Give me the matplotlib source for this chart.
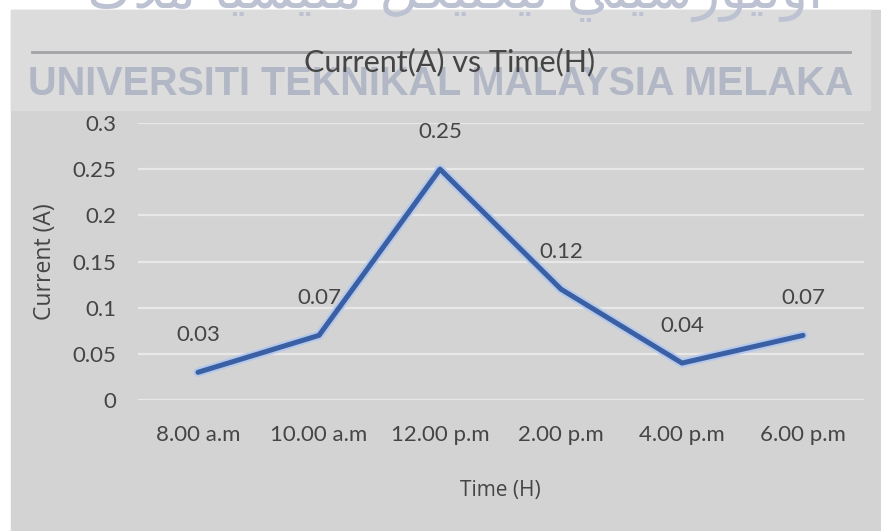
import matplotlib
matplotlib.use("Agg")
import matplotlib.pyplot as plt
from matplotlib.patches import Rectangle
from matplotlib.lines import Line2D

# dados
times = ["8.00 a.m", "10.00 a.m", "12.00 p.m", "2.00 p.m", "4.00 p.m", "6.00 p.m"]
current = [0.03, 0.07, 0.25, 0.12, 0.04, 0.07]
y_ticks = [0, 0.05, 0.1, 0.15, 0.2, 0.25, 0.3]
y_labels = ["0", "0.05", "0.1", "0.15", "0.2", "0.25", "0.3"]

title = "Current(A) vs Time(H)"
watermark = "UNIVERSITI TEKNIKAL MALAYSIA MELAKA"
# jawi (formas de apresentação, ordem visual da esquerda para a direita)
jawi_logical = ("\uFE8D\uFEED\uFEE7\uFEF4\uFEEE\uFEAD\uFEB3\uFEF4\uFE98\uFEF2 "
                "\uFE97\uFEF4\uFEDC\uFEE8\uFEF4\uFEDC\uFEDE "
                "\uFEE3\uFEE0\uFEF4\uFEB4\uFEF4\uFE8E "
                "\uFEE3\uFEFC\uFED9")
jawi = jawi_logical[::-1]

W, H = 881, 531
fig = plt.figure(figsize=(W / 100, H / 100), dpi=100, facecolor="white")

def fx(px):
    return px / W

def fy(py):
    return 1 - py / H

fonte = ["Lato", "DejaVu Sans"]
dark = "#454545"

# fundo cinza do print e faixa clara do topo
fig.patches.append(Rectangle((fx(11), 0), 1 - fx(11), fy(10), transform=fig.transFigure,
                             color="#d3d3d3", zorder=-5))
fig.patches.append(Rectangle((fx(11), fy(110)), fx(870) - fx(11), fy(10) - fy(110),
                             transform=fig.transFigure, color="#dcdcdc", zorder=-4))
fig.lines.append(Line2D([fx(32), fx(850)], [fy(52), fy(52)], transform=fig.transFigure,
                        color="#a3a3a7", lw=2, zorder=-3))

# marca d'água
fig.text(fx(441), fy(84), watermark, ha="center", va="center", fontsize=28.5,
         fontweight="bold", family="Liberation Sans", color="#b2b7c6", zorder=-2)
fig.text(fx(455), fy(8), jawi, ha="center", va="baseline", fontsize=40,
         family="DejaVu Sans", color="#bcc2d2", zorder=-2)

fig.text(fx(450), fy(62), title, ha="center", va="center", fontsize=22,
         family=fonte, color=dark, zorder=1)

ax = fig.add_axes([fx(137.5), fy(400), fx(863.5) - fx(137.5), fy(123) - fy(400)])
ax.set_facecolor("none")
ax.set_zorder(2)
x = list(range(len(times)))

ax.plot(x, current, color="#b4c8ec", lw=6.5, solid_capstyle="round", zorder=3)
ax.plot(x, current, color="#3a5fa3", lw=3.6, solid_capstyle="round", zorder=4)

for xi, v in zip(x, current):
    ax.annotate(f"{v:.2f}", (xi, v), xytext=(0, 37), textcoords="offset pixels",
                ha="center", va="center", fontsize=16, family=fonte, color=dark)

ax.set_xlim(-0.5, 5.5)
ax.set_ylim(0, 0.3)
ax.set_xticks(x)
ax.set_xticklabels(times)
ax.set_yticks(y_ticks)
ax.set_yticklabels(y_labels)
ax.tick_params(length=0, labelsize=16, labelcolor=dark)
ax.tick_params(axis="y", pad=15)
ax.tick_params(axis="x", pad=18)
for lab in ax.get_xticklabels() + ax.get_yticklabels():
    lab.set_family(fonte)

ax.grid(axis="y", color="#e8e8e8", lw=1.6)
ax.set_axisbelow(True)
for s in ax.spines.values():
    s.set_visible(False)

ax.set_ylabel("Current (A)", fontsize=16.5, family=["Open Sans", "DejaVu Sans"], color=dark)
ax.set_xlabel("Time (H)", fontsize=15, family=["Open Sans", "DejaVu Sans"], color=dark)
ax.yaxis.set_label_coords((57 - 137.5) / 726, 0.5)
ax.xaxis.set_label_coords(0.5, (400 - 480) / 277)

fig.savefig("out.png", dpi=100)
